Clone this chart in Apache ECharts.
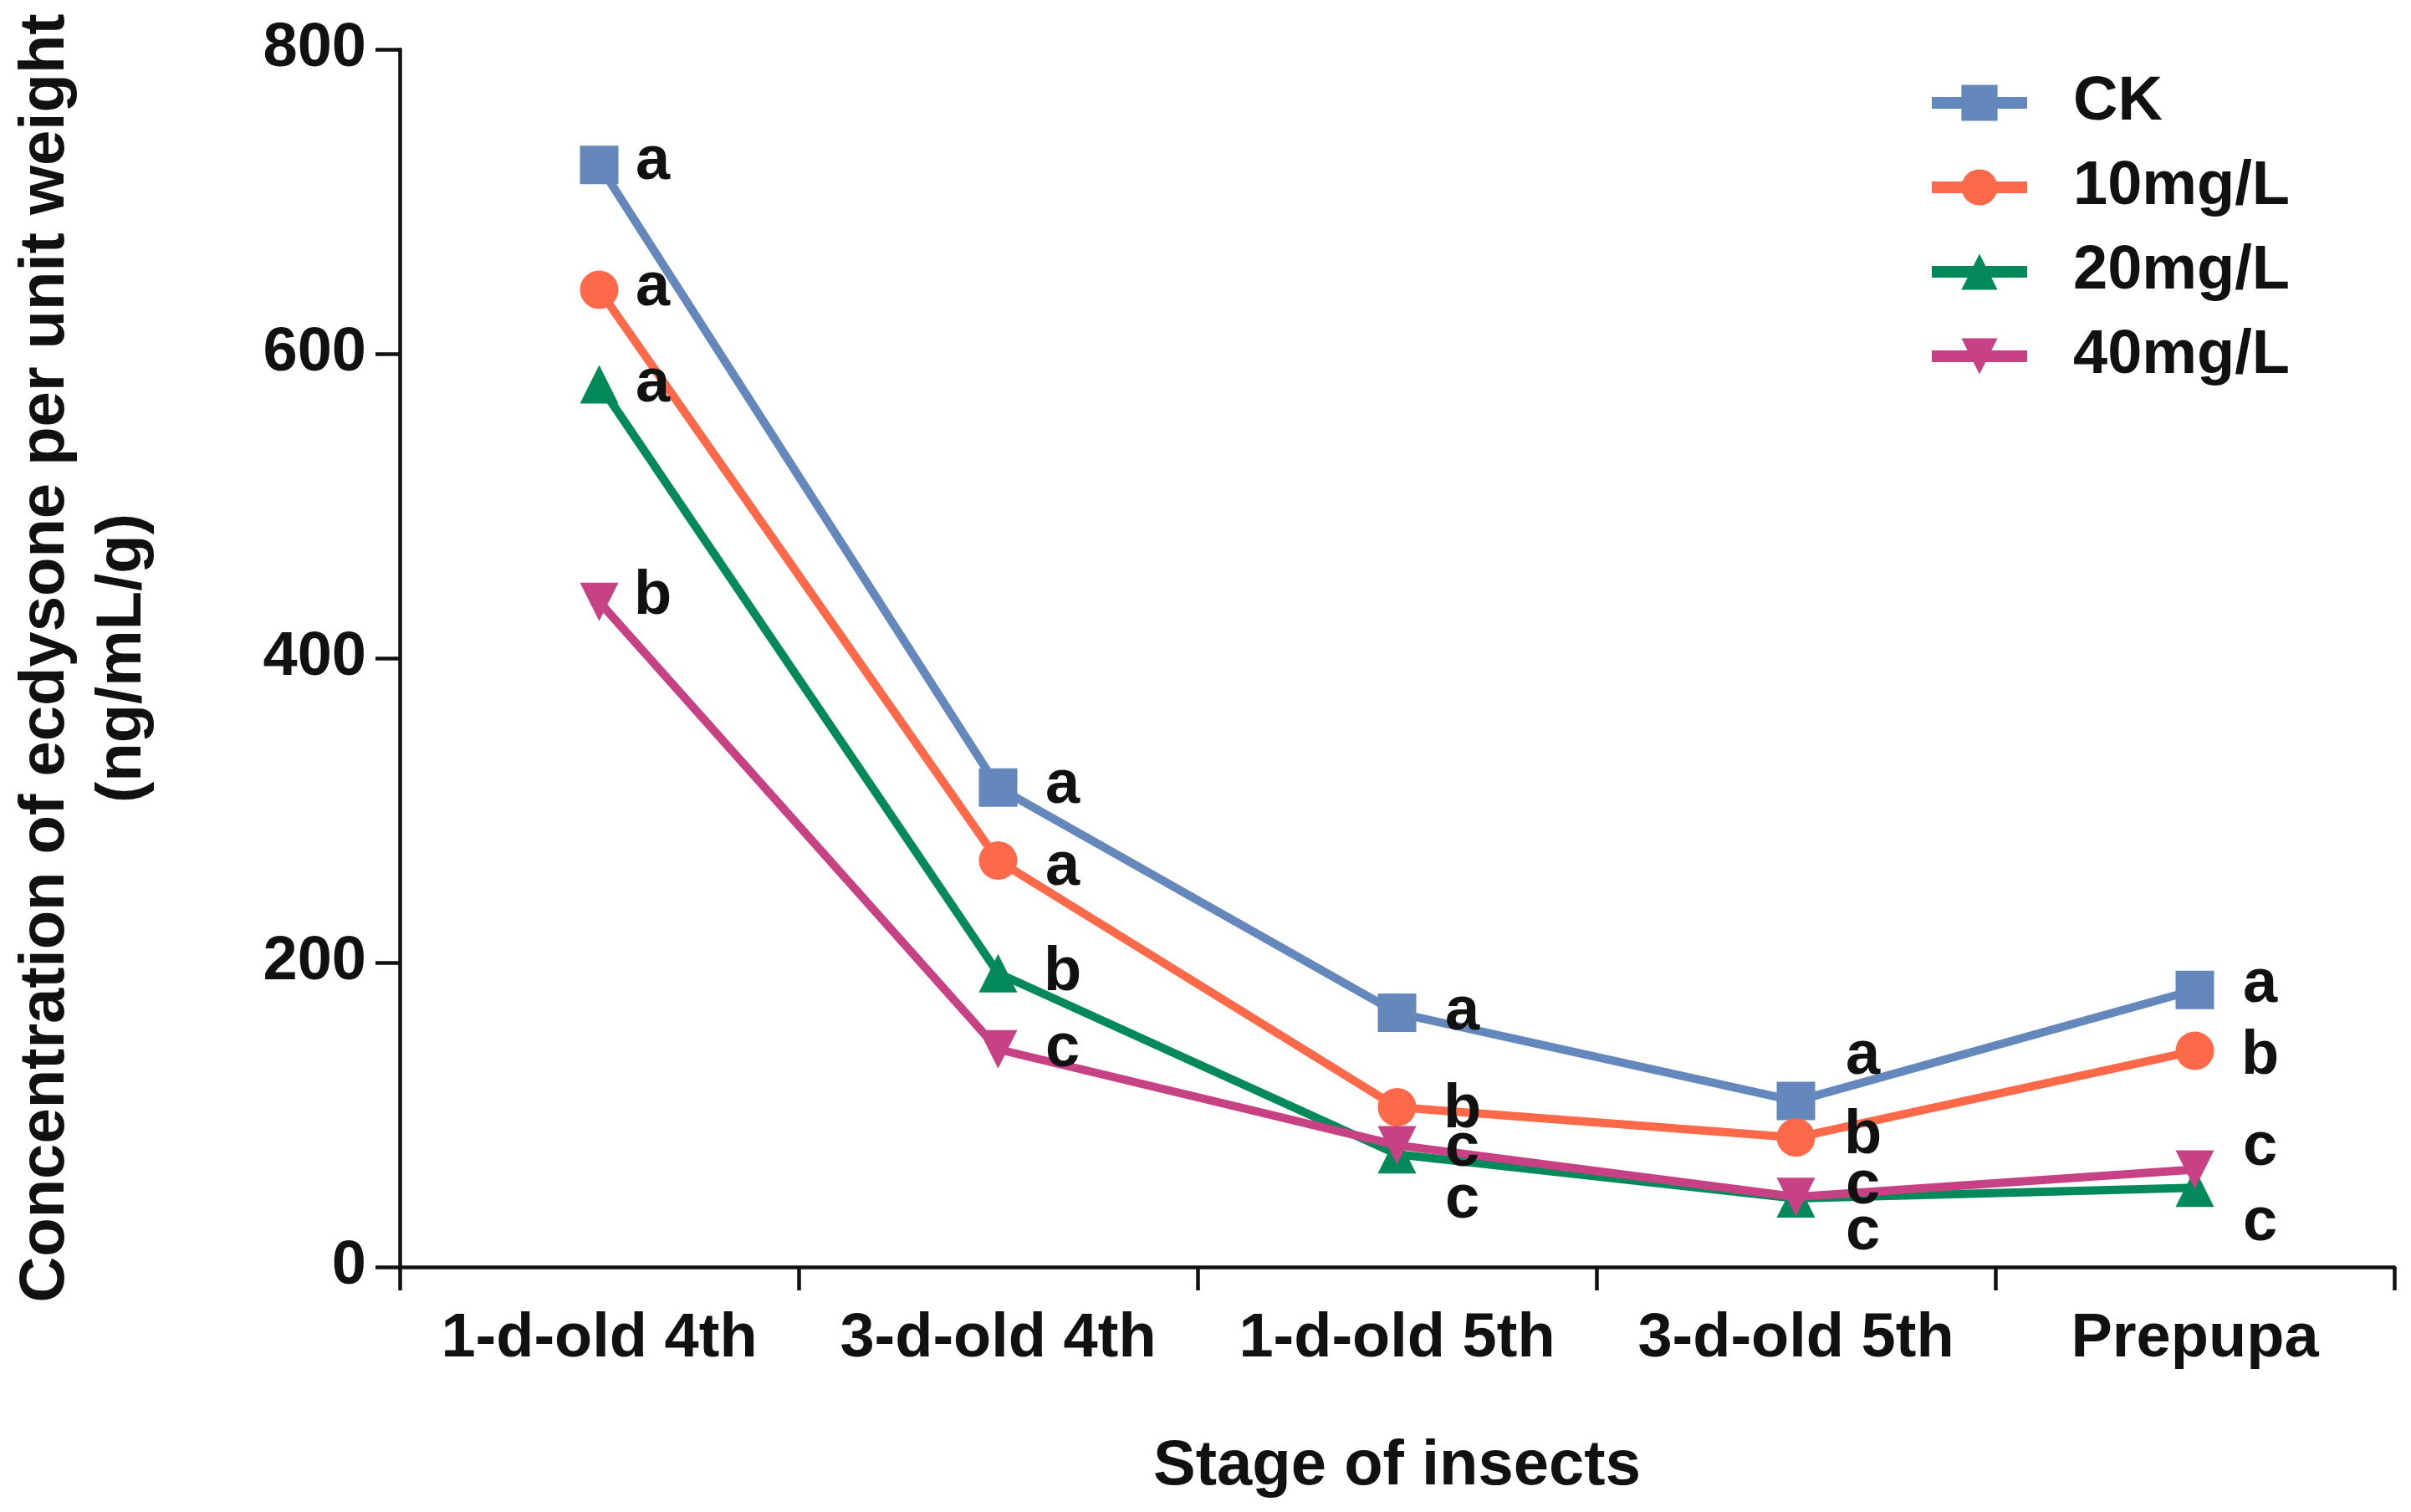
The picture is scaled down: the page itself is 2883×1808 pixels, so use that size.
<!DOCTYPE html>
<html>
<head>
<meta charset="utf-8">
<script src="https://cdn.jsdelivr.net/npm/echarts@6/dist/echarts.min.js"></script>
<style>
html,body{margin:0;padding:0;background:#fff;}
#c{width:2883px;height:1808px;}
</style>
</head>
<body>
<div id="c"></div>
<script>
const categories = ['1-d-old 4th', '3-d-old 4th', '1-d-old 5th', '3-d-old 5th', 'Prepupa'];
const seriesNames = ['CK', '10mg/L', '20mg/L', '40mg/L'];
const ckValues = [724, 315, 167, 109, 182];
const mg10Values = [642, 267, 105, 85, 142];
const mg20Values = [580, 193, 74, 45, 52];
const mg40Values = [437, 143, 80, 46, 64];
const ckLetters = ['a', 'a', 'a', 'a', 'a'];
const mg10Letters = ['a', 'a', 'b', 'b', 'b'];
const mg20Letters = ['a', 'b', 'c', 'c', 'c'];
const mg40Letters = ['b', 'c', 'c', 'c', 'c'];
const yTicks = [0, 200, 400, 600, 800];

// styling (not data)
const FONT = 'Liberation Sans';
const colors = ['#6488bc', '#fe694a', '#03895a', '#c74284'];
const symbols = ['rect', 'circle', 'triangle', 'path://M0,0 L10,0 L5,10 Z'];
const labelDx = [64, 77, 78, 80, 78];
const labelDy = [
  [-4, -2, 0, -53, -6],
  [-2, 9, 4, -2, 7],
  [0, 0, 55, 40, 42],
  [-6, 0, 4, -13, -26]
];

const allValues = [ckValues, mg10Values, mg20Values, mg40Values];
const allLetters = [ckLetters, mg10Letters, mg20Letters, mg40Letters];

const series = seriesNames.map((name, s) => ({
  name: name,
  type: 'line',
  data: allValues[s].map((v, i) => ({
    value: v,
    label: { offset: [labelDx[i], labelDy[s][i]] }
  })),
  symbol: symbols[s],
  symbolSize: 46,
  showAllSymbol: true,
  color: colors[s],
  lineStyle: { width: 10, color: colors[s] },
  itemStyle: { color: colors[s] },
  label: {
    show: true,
    position: 'inside',
    formatter: (p) => allLetters[s][p.dataIndex],
    color: '#111',
    fontFamily: FONT,
    fontWeight: 'bold',
    fontSize: 74
  },
  emphasis: { disabled: true },
  z: 2 + s
}));

const chart = echarts.init(document.getElementById('c'), null, { renderer: 'canvas' });
chart.setOption({
  animation: false,
  backgroundColor: '#fff',
  grid: { left: 478, right: 20, top: 59, bottom: 293, containLabel: false },
  legend: {
    orient: 'vertical',
    left: 2298,
    top: 78,
    itemWidth: 114,
    itemHeight: 54,
    itemGap: 21,
    data: seriesNames,
    lineStyle: { width: 14 },
    selectedMode: false,
    textStyle: {
      fontFamily: FONT,
      fontWeight: 'bold',
      fontSize: 74,
      color: '#111',
      lineHeight: 80,
      padding: [0, 0, 0, 50]
    }
  },
  xAxis: {
    type: 'category',
    data: categories,
    boundaryGap: true,
    name: 'Stage of insects',
    nameLocation: 'middle',
    nameGap: 201,
    nameTextStyle: { fontFamily: FONT, fontWeight: 'bold', fontSize: 76, color: '#111' },
    axisLine: { show: true, lineStyle: { color: '#111', width: 4.5 } },
    axisTick: { show: true, interval: 0, length: 28, alignWithLabel: false, lineStyle: { color: '#111', width: 4.5 } },
    axisLabel: { interval: 0, hideOverlap: false, margin: 50, fontFamily: FONT, fontWeight: 'bold', fontSize: 74, color: '#111' },
    splitLine: { show: false }
  },
  yAxis: {
    type: 'value',
    min: yTicks[0],
    max: yTicks[yTicks.length - 1],
    interval: yTicks[1] - yTicks[0],
    name: 'Concentration of ecdysone per unit weight\n(ng/mL/g)',
    nameLocation: 'middle',
    nameRotate: 90,
    nameGap: 285,
    nameTextStyle: { fontFamily: FONT, fontWeight: 'bold', fontSize: 76, color: '#111', lineHeight: 92 },
    axisLine: { show: true, lineStyle: { color: '#111', width: 4.5 } },
    axisTick: { show: true, length: 29, lineStyle: { color: '#111', width: 4.5 } },
    axisLabel: { margin: 40, fontFamily: FONT, fontWeight: 'bold', fontSize: 74, color: '#111' },
    splitLine: { show: false }
  },
  series: series
});
</script>
</body>
</html>
